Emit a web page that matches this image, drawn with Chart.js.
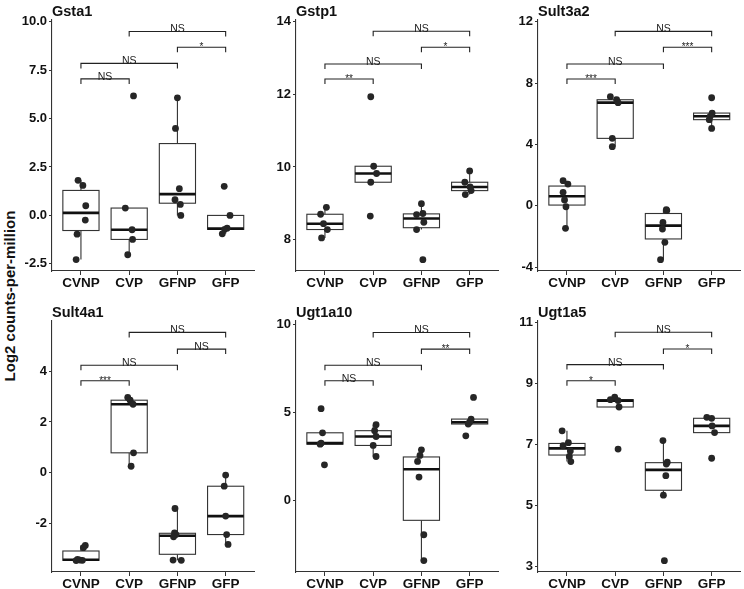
<!DOCTYPE html>
<html>
<head>
<meta charset="utf-8">
<script src="https://cdn.jsdelivr.net/npm/chart.js@4"></script>
<style>
  body { margin: 0; background: #fff; }
  #wrap { position: relative; width: 744px; height: 589px; overflow: hidden; }
  .panel { position: absolute; }
  #ylab {
    position: absolute; left: 9px; top: 296px;
    transform: translate(-50%, -50%) rotate(-90deg);
    font: bold 15px "Liberation Sans", Arial, sans-serif;
    white-space: nowrap; color: #111;
  }
</style>
</head>
<body>
<div id="wrap">
  <div id="ylab">Log2 counts-per-million</div>
  <div class="panel" style="left:16px;top:0;width:242px;height:294px"><canvas id="c0"></canvas></div>
  <div class="panel" style="left:258px;top:0;width:244px;height:294px"><canvas id="c1"></canvas></div>
  <div class="panel" style="left:502px;top:0;width:242px;height:294px"><canvas id="c2"></canvas></div>
  <div class="panel" style="left:16px;top:301px;width:242px;height:294px"><canvas id="c3"></canvas></div>
  <div class="panel" style="left:258px;top:301px;width:244px;height:294px"><canvas id="c4"></canvas></div>
  <div class="panel" style="left:502px;top:301px;width:242px;height:294px"><canvas id="c5"></canvas></div>
</div>
<script>
const groups = ["CVNP", "CVP", "GFNP", "GFP"];
const pairs = [[0, 1], [0, 2], [2, 3], [1, 3]];

// Gsta1
const gsta1Points = [[1.81, 1.55, 0.5, -0.24, -0.97, -2.28], [6.17, 0.38, -0.74, -1.24, -2.03], [6.07, 4.49, 1.38, 0.81, 0.57, 0.0], [1.5, 0.0, -0.66, -0.72, -0.95]];
const gsta1Jitter = [[-0.06, 0.04, 0.1, 0.09, -0.08, -0.1], [0.09, -0.08, 0.06, 0.07, -0.03], [0.0, -0.04, 0.04, -0.05, 0.06, 0.07], [-0.03, 0.09, 0.03, -0.02, -0.07]];
const gsta1Box = [[-2.28, -0.78, 0.13, 1.29, 1.81], [-2.03, -1.24, -0.74, 0.38, 0.38], [0.0, 0.63, 1.1, 3.71, 6.07], [-0.95, -0.72, -0.68, 0.0, 0.0]];
const gsta1BracketY = [7.05, 7.85, 8.68, 9.5];
const gsta1Signif = ["NS", "NS", "*", "NS"];
const gsta1Ticks = ["-2.5", "0.0", "2.5", "5.0", "7.5", "10.0"];
const gsta1Range = [-2.87, 10.09];

// Gstp1
const gstp1Points = [[8.89, 8.7, 8.44, 8.28, 8.05], [11.93, 10.02, 9.82, 9.58, 8.65], [8.99, 8.72, 8.69, 8.48, 8.28, 7.45], [9.89, 9.58, 9.45, 9.35, 9.24]];
const gstp1Jitter = [[0.03, -0.09, -0.03, 0.05, -0.07], [-0.05, 0.01, 0.07, -0.05, -0.06], [0.0, 0.03, -0.1, 0.05, -0.1, 0.03], [0.0, -0.1, 0.01, 0.03, -0.09]];
const gstp1Box = [[8.05, 8.28, 8.44, 8.7, 8.89], [9.58, 9.58, 9.82, 10.02, 10.02], [8.28, 8.33, 8.585, 8.71, 8.99], [9.24, 9.35, 9.45, 9.58, 9.89]];
const gstp1BracketY = [12.42, 12.83, 13.29, 13.73];
const gstp1Signif = ["**", "NS", "*", "NS"];
const gstp1Ticks = ["8", "10", "12", "14"];
const gstp1Range = [7.14, 14.04];

// Sult3a2
const sult3a2Points = [[1.63, 1.41, 0.87, 0.37, -0.07, -1.48], [7.11, 6.91, 6.72, 4.39, 3.85], [-0.26, -0.32, -1.09, -1.52, -2.39, -3.52], [7.04, 6.04, 5.83, 5.61, 5.04]];
const sult3a2Jitter = [[-0.08, 0.02, -0.08, -0.05, -0.02, -0.03], [-0.1, 0.03, 0.06, -0.06, -0.06], [0.06, 0.07, -0.01, -0.02, 0.03, -0.06], [0.0, 0.01, -0.03, -0.05, 0.0]];
const sult3a2Box = [[-1.48, 0.04, 0.62, 1.28, 1.63], [3.85, 4.39, 6.72, 6.91, 7.11], [-3.52, -2.17, -1.3, -0.51, -0.26], [5.04, 5.61, 5.83, 6.04, 6.04]];
const sult3a2BracketY = [8.26, 9.24, 10.33, 11.37];
const sult3a2Signif = ["***", "NS", "***", "NS"];
const sult3a2Ticks = ["-4", "0", "4", "8", "12"];
const sult3a2Range = [-4.26, 12.11];

// Sult4a1
const sult4a1Points = [[-2.88, -2.97, -3.43, -3.46, -3.47, -3.48], [2.97, 2.86, 2.7, 0.78, 0.25], [-1.42, -2.38, -2.45, -2.54, -3.46, -3.47], [-0.1, -0.54, -1.72, -2.45, -2.84]];
const sult4a1Jitter = [[0.09, 0.05, -0.07, -0.02, 0.03, -0.1], [-0.03, 0.02, 0.08, 0.09, 0.04], [-0.05, -0.06, -0.03, -0.08, -0.09, 0.08], [0.0, -0.03, 0.0, 0.02, 0.05]];
const sult4a1Box = [[-3.48, -3.47, -3.445, -3.1, -2.88], [0.25, 0.78, 2.7, 2.86, 2.97], [-3.47, -3.23, -2.5, -2.4, -1.42], [-2.84, -2.45, -1.72, -0.54, -0.1]];
const sult4a1BracketY = [3.63, 4.24, 4.88, 5.54];
const sult4a1Signif = ["***", "NS", "NS", "NS"];
const sult4a1Ticks = ["-2", "0", "2", "4"];
const sult4a1Range = [-3.93, 5.99];

// Ugt1a10
const ugt1a10Points = [[5.22, 3.85, 3.26, 3.2, 2.03], [4.31, 3.97, 3.64, 3.13, 2.5], [2.88, 2.56, 2.22, 1.33, -1.95, -3.42], [5.86, 4.63, 4.45, 4.35, 3.68]];
const ugt1a10Jitter = [[-0.08, -0.05, -0.08, -0.1, -0.01], [0.06, 0.03, 0.06, 0.0, 0.06], [0.0, -0.03, -0.08, -0.05, 0.05, 0.05], [0.08, 0.03, 0.0, -0.03, -0.08]];
const ugt1a10Box = [[3.2, 3.2, 3.26, 3.85, 3.85], [2.5, 3.13, 3.64, 3.97, 4.31], [-3.42, -1.13, 1.775, 2.475, 2.88], [4.35, 4.35, 4.45, 4.63, 4.63]];
const ugt1a10BracketY = [6.81, 7.69, 8.61, 9.56];
const ugt1a10Signif = ["NS", "NS", "**", "NS"];
const ugt1a10Ticks = ["0", "5", "10"];
const ugt1a10Range = [-4.07, 10.21];

// Ugt1a5
const ugt1a5Points = [[7.44, 7.05, 6.95, 6.78, 6.6, 6.43], [8.54, 8.46, 8.43, 8.22, 6.84], [7.12, 6.41, 6.35, 5.97, 5.33, 3.18], [7.88, 7.85, 7.6, 7.38, 6.54]];
const ugt1a5Jitter = [[-0.1, 0.03, -0.08, 0.07, 0.05, 0.08], [-0.01, -0.1, 0.06, 0.08, 0.06], [-0.01, 0.08, 0.06, 0.05, 0.0, 0.02], [-0.1, 0.0, 0.01, 0.06, 0.0]];
const ugt1a5Box = [[6.43, 6.645, 6.865, 7.025, 7.44], [8.22, 8.22, 8.43, 8.46, 8.54], [5.33, 5.49, 6.16, 6.395, 7.12], [7.38, 7.38, 7.6, 7.85, 7.88]];
const ugt1a5BracketY = [9.08, 9.61, 10.12, 10.67];
const ugt1a5Signif = ["*", "NS", "*", "NS"];
const ugt1a5Ticks = ["3", "5", "7", "9", "11"];
const ugt1a5Range = [2.81, 11.04];

const panels = [
  { name: "Gsta1", points: gsta1Points, jitter: gsta1Jitter, box: gsta1Box, bracketY: gsta1BracketY, signif: gsta1Signif, ticks: gsta1Ticks, range: gsta1Range },
  { name: "Gstp1", points: gstp1Points, jitter: gstp1Jitter, box: gstp1Box, bracketY: gstp1BracketY, signif: gstp1Signif, ticks: gstp1Ticks, range: gstp1Range },
  { name: "Sult3a2", points: sult3a2Points, jitter: sult3a2Jitter, box: sult3a2Box, bracketY: sult3a2BracketY, signif: sult3a2Signif, ticks: sult3a2Ticks, range: sult3a2Range },
  { name: "Sult4a1", points: sult4a1Points, jitter: sult4a1Jitter, box: sult4a1Box, bracketY: sult4a1BracketY, signif: sult4a1Signif, ticks: sult4a1Ticks, range: sult4a1Range },
  { name: "Ugt1a10", points: ugt1a10Points, jitter: ugt1a10Jitter, box: ugt1a10Box, bracketY: ugt1a10BracketY, signif: ugt1a10Signif, ticks: ugt1a10Ticks, range: ugt1a10Range },
  { name: "Ugt1a5", points: ugt1a5Points, jitter: ugt1a5Jitter, box: ugt1a5Box, bracketY: ugt1a5BracketY, signif: ugt1a5Signif, ticks: ugt1a5Ticks, range: ugt1a5Range }
];

const FONT = '"Liberation Sans", Arial, Helvetica, sans-serif';
const yAxisWidth = [36, 38, 36];
const padRight = [3, 3, 2];

function boxPlugin(panel) {
  return {
    id: "boxes" + panel.name,
    beforeDatasetsDraw(chart) {
      const { ctx, scales: { x, y } } = chart;
      ctx.save();
      panel.box.forEach((b, i) => {
        const [lo, q1, med, q3, hi] = b;
        const xc = x.getPixelForValue(i);
        const xl = x.getPixelForValue(i - 0.375);
        const xr = x.getPixelForValue(i + 0.375);
        ctx.strokeStyle = "#333";
        ctx.lineWidth = 1.1;
        ctx.beginPath();
        ctx.moveTo(xc, y.getPixelForValue(lo));
        ctx.lineTo(xc, y.getPixelForValue(q1));
        ctx.moveTo(xc, y.getPixelForValue(q3));
        ctx.lineTo(xc, y.getPixelForValue(hi));
        ctx.stroke();
        const top = y.getPixelForValue(q3), bot = y.getPixelForValue(q1);
        ctx.fillStyle = "#fff";
        ctx.fillRect(xl, top, xr - xl, bot - top);
        ctx.strokeRect(xl, top, xr - xl, bot - top);
        ctx.strokeStyle = "#111";
        ctx.lineWidth = 2.6;
        ctx.beginPath();
        ctx.moveTo(xl, y.getPixelForValue(med));
        ctx.lineTo(xr, y.getPixelForValue(med));
        ctx.stroke();
      });
      ctx.restore();
    },
    afterDatasetsDraw(chart) {
      const { ctx, scales: { x, y }, chartArea } = chart;
      ctx.save();
      ctx.strokeStyle = "#222";
      ctx.lineWidth = 1.1;
      ctx.fillStyle = "#222";
      ctx.textAlign = "center";
      ctx.textBaseline = "alphabetic";
      pairs.forEach(([a, b], k) => {
        const yy = y.getPixelForValue(panel.bracketY[k]);
        const xa = x.getPixelForValue(a), xb = x.getPixelForValue(b);
        ctx.beginPath();
        ctx.moveTo(xa, yy + 5);
        ctx.lineTo(xa, yy);
        ctx.lineTo(xb, yy);
        ctx.lineTo(xb, yy + 5);
        ctx.stroke();
        const lab = panel.signif[k];
        ctx.font = (lab === "NS" ? "10.5px " : "10px ") + FONT;
        ctx.fillText(lab, (xa + xb) / 2, lab === "NS" ? yy + 1 : yy + 3);
      });
      ctx.fillStyle = "#111";
      ctx.textAlign = "left";
      ctx.font = "bold 14.5px " + FONT;
      ctx.fillText(panel.name, chartArea.left, 16);
      ctx.restore();
    }
  };
}

panels.forEach((panel, idx) => {
  const col = idx % 3;
  const data = [];
  panel.points.forEach((vals, g) => {
    vals.forEach((v, j) => data.push({ x: g + panel.jitter[g][j], y: v }));
  });

  new Chart(document.getElementById("c" + idx), {
    type: "scatter",
    data: {
      datasets: [{
        data: data,
        pointRadius: 3.4,
        pointHoverRadius: 3.4,
        backgroundColor: "#262626",
        borderWidth: 0
      }]
    },
    options: {
      responsive: true,
      maintainAspectRatio: false,
      animation: false,
      layout: { padding: { top: 20, right: padRight[col], bottom: 0, left: 0 } },
      plugins: { legend: { display: false }, tooltip: { enabled: false } },
      scales: {
        x: {
          type: "linear",
          min: -0.6,
          max: 3.6,
          afterBuildTicks: s => { s.ticks = groups.map((g, i) => ({ value: i })); },
          afterFit: s => { s.height = 23; },
          ticks: {
            callback: v => groups[v],
            autoSkip: false,
            maxRotation: 0,
            padding: 0,
            color: "#111",
            font: { family: FONT, size: 13.5, weight: "bold" }
          },
          grid: { drawOnChartArea: false, tickLength: 4, color: "#333" },
          border: { color: "#333", width: 1.1 }
        },
        y: {
          min: panel.range[0],
          max: panel.range[1],
          afterBuildTicks: s => { s.ticks = panel.ticks.map(t => ({ value: Number(t) })); },
          afterFit: s => { s.width = yAxisWidth[col]; },
          ticks: {
            callback: (v, i) => panel.ticks[i],
            padding: 2,
            color: "#111",
            font: { family: FONT, size: 13, weight: "bold" }
          },
          grid: { drawOnChartArea: false, tickLength: 3, color: "#333" },
          border: { color: "#333", width: 1.1 }
        }
      }
    },
    plugins: [boxPlugin(panel)]
  });
});
</script>
</body>
</html>
